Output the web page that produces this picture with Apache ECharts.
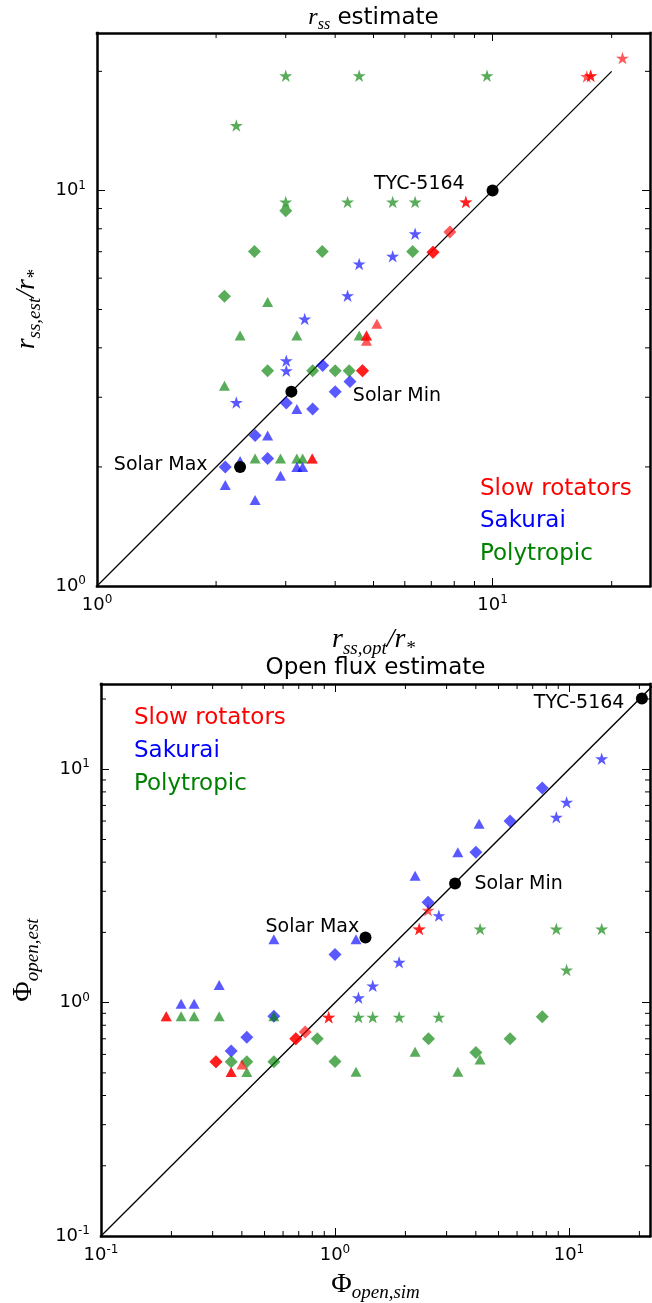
<!DOCTYPE html>
<html><head><meta charset="utf-8">
<script src="https://cdn.jsdelivr.net/npm/echarts@6/dist/echarts.min.js"></script>
<style>html,body{margin:0;padding:0;background:#fff}#c{width:652px;height:1303px}</style>
</head><body><div id="c"></div>
<script>
// ---------- Top panel: r_ss estimate (x = r_ss,opt/r*, y = r_ss,est/r*) ----------
const rssRedStar = [[17.3,19.4],[17.7,19.5],[17.7,19.5],[21.3,21.6],[8.56,9.35],[8.56,9.35]];
const rssRedDiamond = [[7.8,7.85],[7.07,6.98],[7.07,6.98],[4.69,3.5],[4.69,3.5]];
const rssRedTriangle = [[5.1,4.6],[4.8,4.3],[4.8,4.3],[4.8,4.17],[3.5,2.1],[3.5,2.1]];
const rssBlueStar = [[6.37,7.77],[5.59,6.82],[4.6,6.52],[4.3,5.42],[3.35,4.73],[3.01,3.71],[3.01,3.5],[2.25,2.91]];
const rssBlueDiamond = [[3.72,3.61],[4.36,3.29],[4.0,3.1],[3.01,2.9],[3.51,2.8],[2.51,2.4],[2.7,2.1],[2.11,2.0]];
const rssBlueTriangle = [[3.2,2.8],[2.7,2.4],[2.3,2.07],[3.2,2.0],[3.31,2.0],[2.91,1.9],[2.11,1.8],[2.51,1.65]];
const rssGreenStar = [[3.0,19.5],[4.6,19.5],[9.68,19.5],[2.25,14.6],[3.0,9.35],[4.3,9.35],[5.59,9.35],[6.37,9.35]];
const rssGreenDiamond = [[3.0,8.88],[2.5,7.01],[3.71,7.01],[6.28,7.01],[2.1,5.4],[2.7,3.5],[3.51,3.5],[4.0,3.5],[4.34,3.5]];
const rssGreenTriangle = [[2.7,5.22],[2.3,4.3],[3.2,4.3],[4.6,4.3],[2.1,3.21],[2.51,2.1],[2.91,2.1],[3.2,2.1],[3.31,2.1]];
const rssSun = [[2.3,2.0],[3.1,3.1],[10,10]];
const rssOneToOne = [[1,1],[20,20]];
const rssLabels = [{name:'TYC-5164', value:[5.0,10.4]},{name:'Solar Min', value:[4.42,3.02]},{name:'Solar Max', value:[1.10,2.02]}];
const rssRange = [1, 25];
const rssMinorTicks = [2,3,4,5,6,7,8,9,20];

// ---------- Bottom panel: open flux estimate ----------
const phiRedStar = [[2.5,2.49],[2.29,2.07],[2.29,2.07],[0.94,0.866],[0.94,0.866]];
const phiRedDiamond = [[0.746,0.748],[0.68,0.70],[0.68,0.70],[0.31,0.558],[0.31,0.558]];
const phiRedTriangle = [[0.19,0.875],[0.19,0.875],[0.40,0.543],[0.36,0.504],[0.36,0.504]];
const phiBlueStar = [[13.8,11.1],[9.77,7.22],[8.83,6.23],[2.78,2.36],[1.88,1.49],[1.45,1.18],[1.26,1.05]];
const phiBlueDiamond = [[7.69,8.32],[5.6,6.01],[4.0,4.41],[2.5,2.69],[1.0,1.61],[0.548,0.875],[0.42,0.71],[0.36,0.62]];
const phiBlueTriangle = [[4.13,5.84],[3.35,4.41],[2.2,3.5],[1.23,1.87],[0.548,1.87],[0.32,1.19],[0.22,0.99],[0.25,0.99]];
const phiGreenStar = [[4.17,2.07],[8.83,2.07],[13.8,2.07],[9.77,1.38],[1.26,0.867],[1.45,0.867],[1.88,0.867],[2.78,0.867]];
const phiGreenDiamond = [[7.69,0.87],[2.51,0.70],[5.6,0.70],[4.0,0.612],[1.0,0.56],[0.84,0.70],[0.36,0.558],[0.42,0.558],[0.548,0.558]];
const phiGreenTriangle = [[2.2,0.616],[4.17,0.571],[1.23,0.506],[3.35,0.506],[0.22,0.875],[0.25,0.875],[0.32,0.875],[0.548,0.875],[0.42,0.504]];
const phiSun = [[1.35,1.90],[3.26,3.24],[20.5,20.1]];
const phiOneToOne = [[0.1,0.1],[30,30]];
const phiLabels = [{name:'TYC-5164', value:[7.04,19.3]},{name:'Solar Min', value:[3.93,3.21]},{name:'Solar Max', value:[0.502,2.11]}];
const phiXRange = [0.1, 22.2];
const phiYRange = [0.1, 23.2];
const phiMinorTicks = [0.2,0.3,0.4,0.5,0.6,0.7,0.8,0.9,2,3,4,5,6,7,8,9,20];

const legendNames = ['Slow rotators','Sakurai','Polytropic'];

// ---------- styling ----------
const FONT = 'DejaVu Sans';
const MATH = 'Liberation Serif';
const RED = '#ff0000', BLUE = '#0000ff', GREEN = '#008000';
const ALPHA = 0.65;
const STAR = 'path://M50,0 L61.23,34.55 L97.55,34.55 L68.17,55.9 L79.39,90.45 L50,69.1 L20.61,90.45 L31.83,55.9 L2.45,34.55 L38.77,34.55 Z';
const SYM = {
  star: {symbol: STAR, size: [13, 12.5]},
  diamond: {symbol: 'diamond', size: [13, 13]},
  triangle: {symbol: 'triangle', size: [11, 10]}
};

function sc(gi, data, color, kind) {
  return {type:'scatter', xAxisIndex: gi*2, yAxisIndex: gi*2, data: data,
    symbol: SYM[kind].symbol, symbolSize: SYM[kind].size, symbolKeepAspect: false,
    itemStyle: {color: color, opacity: ALPHA}, silent: true, z: 3, animation: false};
}
function sun(gi, data) {
  return {type:'scatter', xAxisIndex: gi*2, yAxisIndex: gi*2, data: data, symbol:'circle', symbolSize: 12,
    itemStyle:{color:'#000', opacity:1}, silent:true, z:5, animation:false};
}
function labels(gi, data) {
  return {type:'scatter', xAxisIndex: gi*2, yAxisIndex: gi*2, data: data, symbol:'circle', symbolSize: 1,
    itemStyle:{color:'rgba(0,0,0,0)'}, silent:true, z:6, animation:false,
    label:{show:true, position:'right', distance:0, formatter: p => p.name, color:'#000',
      fontFamily: FONT, fontSize: 19, opacity: 1}};
}
function diag(gi, data) {
  return {type:'line', xAxisIndex: gi*2, yAxisIndex: gi*2, data: data, showSymbol:false, symbol:'none',
    lineStyle:{color:'#000', width:1.3}, silent:true, z:2, animation:false, clip:true};
}
function minorX(gi, ticks, yr) {
  return {type:'custom', xAxisIndex: gi*2, yAxisIndex: gi*2, silent:true, clip:false, z:10, animation:false,
    data: ticks.map(v => [v, yr[0]]),
    renderItem: function(params, api){
      const v = api.value(0);
      const b = api.coord([v, yr[0]]), t = api.coord([v, yr[1]]);
      return {type:'group', children:[
        {type:'line', shape:{x1:b[0], y1:b[1], x2:b[0], y2:b[1]-5}, style:{stroke:'#000', lineWidth:1}},
        {type:'line', shape:{x1:t[0], y1:t[1], x2:t[0], y2:t[1]+5}, style:{stroke:'#000', lineWidth:1}}
      ]};
    }};
}
function minorY(gi, ticks, xr) {
  return {type:'custom', xAxisIndex: gi*2, yAxisIndex: gi*2, silent:true, clip:false, z:10, animation:false,
    data: ticks.map(v => [xr[0], v]),
    renderItem: function(params, api){
      const v = api.value(1);
      const l = api.coord([xr[0], v]), r = api.coord([xr[1], v]);
      return {type:'group', children:[
        {type:'line', shape:{x1:l[0], y1:l[1], x2:l[0]+5, y2:l[1]}, style:{stroke:'#000', lineWidth:1}},
        {type:'line', shape:{x1:r[0], y1:r[1], x2:r[0]-5, y2:r[1]}, style:{stroke:'#000', lineWidth:1}}
      ]};
    }};
}

const tickRich = {
  b: {fontFamily: FONT, fontSize: 18, lineHeight: 22, color:'#000'},
  s: {fontFamily: FONT, fontSize: 12, lineHeight: 12, padding:[0,0,10,0], color:'#000'}
};
function supLabel(v) {
  const e = Math.log10(v);
  if (Math.abs(e - Math.round(e)) > 1e-6) return '';
  return '{b|10}{s|' + Math.round(e) + '}';
}
const nameRich = {
  r: {fontFamily: MATH, fontStyle:'italic', fontSize: 28, lineHeight: 36, color:'#000'},
  p: {fontFamily: MATH, fontSize: 28, lineHeight: 36, color:'#000'},
  sub: {fontFamily: MATH, fontStyle:'italic', fontSize: 19, lineHeight: 19, padding:[17,0,0,0], color:'#000'}
};

function axis(gi, dim, pos, range, main, name, nameGap) {
  const a = {
    type:'log', logBase:10, gridIndex: gi, position: pos, min: range[0], max: range[1],
    axisLine:{show:true, onZero:false, lineStyle:{color:'#000', width:2.5, cap:'square'}},
    axisTick:{show:true, inside:true, length:8, lineStyle:{color:'#000', width:1}},
    minorTick:{show:false}, splitLine:{show:false}, minorSplitLine:{show:false},
    axisLabel:{show: main, formatter: supLabel, rich: tickRich, margin: dim === 'x' ? 8 : 11,
      showMinLabel: true, showMaxLabel: false, hideOverlap: false},
    silent: true
  };
  if (main) {
    a.name = name; a.nameLocation = 'middle'; a.nameGap = nameGap;
    a.nameTextStyle = {rich: nameRich};
  }
  return a;
}

const option = {
  backgroundColor:'#fff',
  animation:false,
  grid:[
    {left:97, top:33, width:553, height:553, containLabel:false, outerBoundsMode:'none'},
    {left:101, top:684, width:549, height:552, containLabel:false, outerBoundsMode:'none'}
  ],
  xAxis:[
    axis(0,'x','bottom', rssRange, true, '{r|r}{sub|ss,opt}{r|/r}{sub|*}', 36),
    axis(0,'x','top', rssRange, false),
    axis(1,'x','bottom', phiXRange, true, '{p|Φ}{sub|open,sim}', 29),
    axis(1,'x','top', phiXRange, false)
  ],
  yAxis:[
    axis(0,'y','left', rssRange, true, '{r|r}{sub|ss,est}{r|/r}{sub|*}', 50),
    axis(0,'y','right', rssRange, false),
    axis(1,'y','left', phiYRange, true, '{p|Φ}{sub|open,est}', 59),
    axis(1,'y','right', phiYRange, false)
  ],
  graphic:[
    {type:'text', x:373.5, y:18, silent:true, style:{text:'{m|r}{s|ss}{t| estimate}', textAlign:'center', textVerticalAlign:'middle',
      rich:{m:{fontFamily:MATH, fontStyle:'italic', fontSize:24, lineHeight:30, fill:'#000'},
            s:{fontFamily:MATH, fontStyle:'italic', fontSize:16, lineHeight:16, padding:[14,0,0,0], fill:'#000'},
            t:{fontFamily:FONT, fontSize:23, lineHeight:30, fill:'#000'}}}},
    {type:'text', x:375.5, y:668, silent:true, style:{text:'Open flux estimate', textAlign:'center', textVerticalAlign:'middle',
      fontFamily:FONT, fontSize:23, fill:'#000'}},
    {type:'text', x:480, y:489, silent:true, style:{text:legendNames[0], fontFamily:FONT, fontSize:23, fill:RED, textVerticalAlign:'middle'}},
    {type:'text', x:480, y:521, silent:true, style:{text:legendNames[1], fontFamily:FONT, fontSize:23, fill:BLUE, textVerticalAlign:'middle'}},
    {type:'text', x:480, y:554, silent:true, style:{text:legendNames[2], fontFamily:FONT, fontSize:23, fill:GREEN, textVerticalAlign:'middle'}},
    {type:'text', x:134, y:718, silent:true, style:{text:legendNames[0], fontFamily:FONT, fontSize:23, fill:RED, textVerticalAlign:'middle'}},
    {type:'text', x:134, y:751, silent:true, style:{text:legendNames[1], fontFamily:FONT, fontSize:23, fill:BLUE, textVerticalAlign:'middle'}},
    {type:'text', x:134, y:784, silent:true, style:{text:legendNames[2], fontFamily:FONT, fontSize:23, fill:GREEN, textVerticalAlign:'middle'}}
  ],
  series:[
    diag(0, rssOneToOne),
    sc(0, rssRedStar, RED, 'star'), sc(0, rssBlueStar, BLUE, 'star'), sc(0, rssGreenStar, GREEN, 'star'),
    sc(0, rssRedDiamond, RED, 'diamond'), sc(0, rssBlueDiamond, BLUE, 'diamond'), sc(0, rssGreenDiamond, GREEN, 'diamond'),
    sc(0, rssGreenTriangle, GREEN, 'triangle'), sc(0, rssBlueTriangle, BLUE, 'triangle'), sc(0, rssRedTriangle, RED, 'triangle'),
    sun(0, rssSun), labels(0, rssLabels),
    minorX(0, rssMinorTicks, rssRange), minorY(0, rssMinorTicks, rssRange),

    diag(1, phiOneToOne),
    sc(1, phiRedStar, RED, 'star'), sc(1, phiBlueStar, BLUE, 'star'), sc(1, phiGreenStar, GREEN, 'star'),
    sc(1, phiRedDiamond, RED, 'diamond'), sc(1, phiBlueDiamond, BLUE, 'diamond'), sc(1, phiGreenDiamond, GREEN, 'diamond'),
    sc(1, phiGreenTriangle, GREEN, 'triangle'), sc(1, phiBlueTriangle, BLUE, 'triangle'), sc(1, phiRedTriangle, RED, 'triangle'),
    sun(1, phiSun), labels(1, phiLabels),
    minorX(1, phiMinorTicks, phiYRange), minorY(1, phiMinorTicks, phiXRange)
  ]
};
const chart = echarts.init(document.getElementById('c'), null, {renderer:'canvas'});
chart.setOption(option);
</script></body></html>
